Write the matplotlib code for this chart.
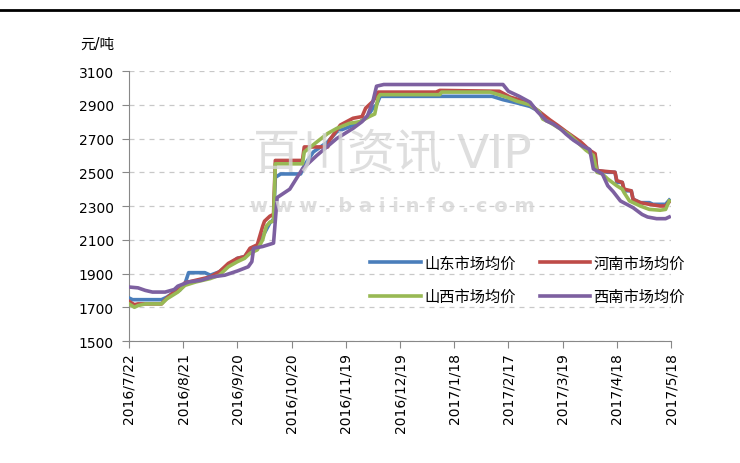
import numpy as np
import pandas as pd
import matplotlib
matplotlib.use('Agg')
import matplotlib.pyplot as plt

plt.rcParams['font.family'] = ['DejaVu Sans', 'Noto Sans CJK SC']

# 起始日期, 数据按天数偏移给出
start = pd.Timestamp('2016-07-22')

# 山东市场均价
sd_day = [0, 2, 18, 21, 25, 28, 31, 33, 42, 45, 50, 55, 60, 64, 67, 71, 74, 78, 80, 81, 84, 95, 97, 102,
          110, 115, 122, 128, 132, 135, 137, 139, 170, 201, 207, 215, 222, 227, 233, 239, 244, 250, 255,
          258, 259, 265, 269, 270, 273, 274, 278, 279, 283, 288, 290, 297, 299]
sd_val = [1755, 1745, 1745, 1760, 1790, 1800, 1840, 1905, 1905, 1890, 1910, 1950, 1990, 2000, 2040, 2060,
          2120, 2200, 2220, 2470, 2490, 2490, 2540, 2620, 2680, 2740, 2770, 2800, 2830, 2880, 2900, 2950,
          2950, 2950, 2930, 2910, 2890, 2860, 2800, 2760, 2720, 2670, 2630, 2600, 2510, 2500, 2500, 2440,
          2440, 2390, 2390, 2340, 2320, 2320, 2310, 2310, 2335]

# 河南市场均价
hn_day = [0, 3, 5, 18, 21, 25, 28, 31, 37, 45, 50, 53, 55, 60, 64, 67, 71, 74, 75, 78, 80, 81, 96, 97,
          110, 111, 117, 124, 129, 131, 135, 138, 170, 172, 205, 211, 216, 222, 227, 233, 237, 242, 246,
          250, 255, 258, 259, 269, 270, 273, 274, 278, 279, 283, 288, 294, 297, 299]
hn_val = [1735, 1715, 1720, 1720, 1755, 1790, 1810, 1845, 1860, 1880, 1910, 1940, 1960, 1990, 2000, 2050,
          2070, 2180, 2210, 2240, 2250, 2570, 2570, 2650, 2650, 2690, 2780, 2820, 2830, 2880, 2920, 2975,
          2975, 2985, 2980, 2945, 2930, 2900, 2860, 2810, 2780, 2740, 2710, 2680, 2630, 2610, 2510, 2500,
          2450, 2440, 2400, 2390, 2340, 2320, 2310, 2300, 2300, 2325]

# 山西市场均价
sx_day = [0, 3, 5, 9, 18, 21, 24, 27, 31, 37, 45, 50, 55, 60, 64, 67, 71, 74, 76, 78, 80, 81, 96, 97,
          104, 110, 115, 122, 128, 133, 136, 138, 139, 172, 173, 200, 209, 215, 222, 227, 229, 233, 239,
          244, 248, 253, 257, 259, 262, 265, 270, 273, 274, 277, 283, 288, 294, 297, 299]
sx_val = [1720, 1700, 1710, 1720, 1720, 1750, 1770, 1790, 1830, 1850, 1870, 1890, 1940, 1970, 1990, 2020,
          2040, 2100, 2180, 2205, 2210, 2550, 2550, 2620, 2680, 2730, 2760, 2790, 2800, 2830, 2845, 2945,
          2960, 2960, 2975, 2975, 2945, 2920, 2900, 2860, 2815, 2795, 2755, 2720, 2680, 2630, 2600, 2500,
          2490, 2460, 2420, 2400, 2380, 2330, 2300, 2280, 2275, 2280, 2330]

# 西南市场均价
xn_day = [0, 5, 9, 13, 20, 25, 27, 33, 40, 46, 53, 60, 66, 68, 69, 74, 77, 80, 82, 89, 96, 104, 115, 124,
          129, 132, 135, 137, 141, 207, 210, 216, 222, 226, 231, 235, 239, 242, 246, 251, 255, 257, 262,
          265, 268, 272, 279, 284, 287, 292, 297, 299]
xn_val = [1820, 1815, 1800, 1790, 1790, 1805, 1825, 1850, 1860, 1880, 1890, 1915, 1940, 1970, 2050, 2060,
          2070, 2080, 2350, 2400, 2520, 2600, 2700, 2760, 2800, 2835, 2920, 3010, 3020, 3020, 2980, 2950,
          2915, 2860, 2805, 2785, 2755, 2725, 2690, 2655, 2635, 2520, 2490, 2420, 2385, 2330, 2290, 2250,
          2235, 2225, 2225, 2235]

names = ['山东市场均价', '河南市场均价', '山西市场均价', '西南市场均价']
colors = ['#4a7ebb', '#be4b48', '#98b954', '#7d60a0']
xtick_days = [0, 30, 60, 90, 120, 150, 180, 210, 240, 270, 300]
xtick_labels = ['2016/7/22', '2016/8/21', '2016/9/20', '2016/10/20', '2016/11/19', '2016/12/19',
                '2017/1/18', '2017/2/17', '2017/3/19', '2017/4/18', '2017/5/18']
yticks = [1500, 1700, 1900, 2100, 2300, 2500, 2700, 2900, 3100]

def to_date(days):
    return start + pd.to_timedelta(days, unit='D')

fig = plt.figure(figsize=(7.4, 4.64), dpi=100)
ax = fig.add_axes([0.1743, 0.2629, 0.7325, 0.5819])

lines = []
for d, v, c, n in zip([sd_day, hn_day, sx_day, xn_day], [sd_val, hn_val, sx_val, xn_val], colors, names):
    ln, = ax.plot(to_date(d), v, color=c, lw=2.6, label=n, solid_joinstyle='round', zorder=3)
    lines.append(ln)

ax.set_ylim(1500, 3100)
ax.set_yticks(yticks)
ax.set_xlim(to_date(0), to_date(300))
ax.set_xticks(to_date(xtick_days))
ax.set_xticklabels(xtick_labels, rotation=90, fontsize=10)
ax.tick_params(axis='y', labelsize=10, length=5, color='#888888', pad=6)
ax.tick_params(axis='x', length=5, color='#888888', pad=3)
ax.grid(axis='y', ls=(0, (4, 4)), color='#c8c8c8', lw=0.9)
ax.set_axisbelow(True)
for s in ['top', 'right']:
    ax.spines[s].set_visible(False)
for s in ['left', 'bottom']:
    ax.spines[s].set_color('#888888')

fig.text(0.108, 0.905, '元/吨', fontsize=10.5, ha='left', va='center')

# 水印
fig.text(0.53, 0.665, '百川资讯 VIP', fontsize=34, color='#d6d6d6', ha='center', va='center',
         alpha=0.8, zorder=0)
fig.text(0.53, 0.555, 'w w w . b a i i n f o . c o m', fontsize=14, color='#d6d6d6', ha='center',
         va='center', fontweight='bold', alpha=0.8, zorder=0)

# 顶部横线
fig.add_artist(plt.Line2D([0, 1], [0.976, 0.976], color='black', lw=2, transform=fig.transFigure))

# 图例按行排列: 山东, 河南 / 山西, 西南
order = [0, 2, 1, 3]
fig.legend(handles=[lines[i] for i in order], loc='center', bbox_to_anchor=(0.713, 0.395), ncol=2,
           frameon=False, fontsize=11, handlelength=3.3, handletextpad=0.2, columnspacing=1.6,
           labelspacing=1.2)

fig.savefig('out.png', dpi=100)
